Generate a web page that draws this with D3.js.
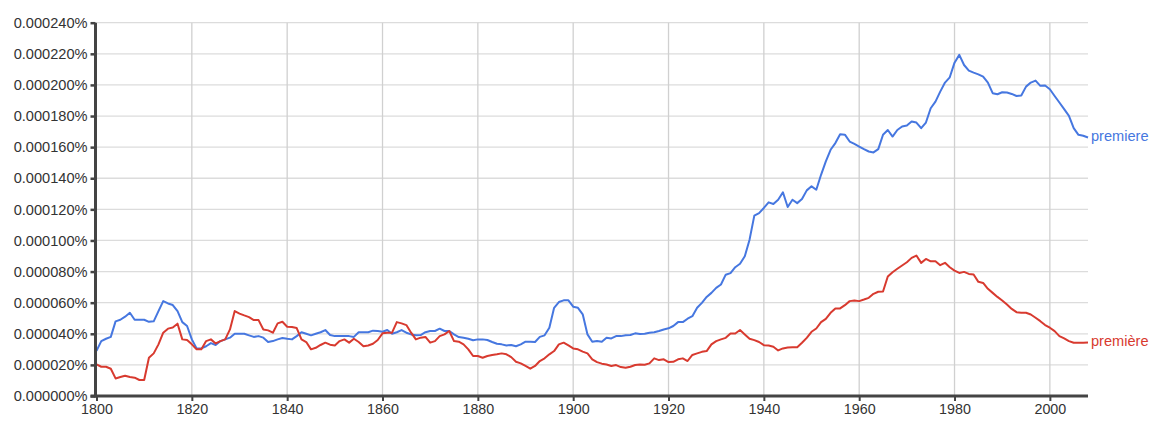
<!DOCTYPE html>
<html>
<head>
<meta charset="utf-8">
<script src="https://cdn.jsdelivr.net/npm/d3@7"></script>
<style>
  html, body { margin: 0; padding: 0; background: #fff; }
  svg { display: block; font-family: "Liberation Sans", Arial, Helvetica, sans-serif; }
</style>
</head>
<body>
<svg id="chart" width="1160" height="428"></svg>
<script>
// ---- data (values in units of 0.000001 %) ----
const startYear = 1800;
const endYear = 2008;
const xTickYears = [1800, 1820, 1840, 1860, 1880, 1900, 1920, 1940, 1960, 1980, 2000];
const yTickValues = [0, 20, 40, 60, 80, 100, 120, 140, 160, 180, 200, 220, 240];
const yTickLabels = ["0.000000%", "0.000020%", "0.000040%", "0.000060%", "0.000080%", "0.000100%",
  "0.000120%", "0.000140%", "0.000160%", "0.000180%", "0.000200%", "0.000220%", "0.000240%"];
const seriesNames = ["premiere", "première"];
const seriesColors = ["#4677e0", "#d83a2f"];

const premiere = [
  29, 35.3, 36.8, 38, 48, 49, 51, 53.5, 49, 49,
  49, 47.7, 48, 54.6, 61, 59.5, 58.5, 54.6, 47.5, 45,
  36.4, 30.6, 30.6, 32, 34, 32.8, 35.3, 36.4, 37.5, 40,
  40, 40, 39, 38, 38.5, 37.5, 34.7, 35.3, 36.4, 37.3,
  36.8, 36.4, 38.5, 41, 40, 39, 40, 41, 42.4, 39.2,
  38.5, 38.5, 38.5, 38.5, 38, 41, 41, 41, 42, 41.8,
  41.3, 42.4, 40, 41, 42.4, 40.7, 39.6, 39, 39.2, 41,
  41.8, 41.8, 43.3, 41.8, 41.8, 39.6, 37.9, 37.5, 36.8, 35.8,
  36.4, 36.4, 36, 34.7, 33.6, 33.2, 32.5, 32.8, 32, 33.2,
  34.9, 34.9, 34.7, 38, 39, 43.9, 56.7, 60.4, 61.5, 61.5,
  57.4, 56.7, 52.5, 39.6, 34.9, 35.3, 34.9, 37.5, 37, 38.5,
  38.5, 39, 39.2, 40.3, 39.8, 40, 40.7, 41, 41.8, 42.8,
  43.5, 45, 47.5, 47.5, 49.7, 51.3, 56.7, 59.9, 63.7, 66.3,
  69.5, 71.7, 78, 79, 82.8, 85, 89.8, 100.5, 116, 117.6,
  120.9, 124.5, 123.4, 126.2, 131, 121.5, 126.2, 124, 126.6, 132.2,
  134.8, 132.6, 142.2, 150.8, 158.3, 162.6, 168.3, 168, 163.6, 162.1,
  160.4, 158.7, 157.2, 156.6, 158.7, 168, 171, 166.8, 171, 173.3,
  173.9, 176.5, 175.8, 172.2, 175.8, 185, 189.3, 195.7, 201.5, 204.9,
  214.3, 219.3, 212.8, 209.2, 207.9, 206.8, 205.3, 201.5, 194.7, 194,
  195.3, 195.1, 194.2, 192.9, 193.2, 198.9, 201.5, 202.8, 199.4, 199.6,
  197.2, 192.9, 188.7, 184.4, 180.1, 172.2, 167.9, 167.3, 166.2
];

const premiereAccent = [
  20.3, 18.8, 18.8, 17.5, 11.3, 12.2, 13, 12.2, 11.8, 10.3,
  10.3, 24.6, 27.4, 33.2, 40.7, 43.3, 44, 46.5, 36.4, 36,
  33.2, 30, 30, 35.3, 36.4, 33.8, 35.3, 36.4, 42.8, 54.6,
  53, 51.8, 50.7, 48.8, 48.8, 42.8, 42.2, 40.7, 46.7, 47.7,
  44.5, 44.3, 43.7, 36.4, 34.7, 30, 31, 32.8, 34.3, 33,
  32.5, 35.3, 36.4, 34.3, 36.8, 34.7, 32, 32.5, 33.6, 36,
  40.3, 40.7, 40.7, 47.5, 46.7, 45.6, 40.7, 36.4, 37.5, 38,
  34.3, 35.3, 38.5, 39.6, 41.8, 35.3, 34.9, 33.2, 30, 25.7,
  25.7, 24.6, 25.7, 26.3, 26.8, 27.4, 26.8, 25, 22, 21,
  19.3, 17.6, 19.3, 22.5, 24.2, 26.8, 28.9, 33.2, 34.3, 32.5,
  30.6, 30, 28.5, 27.4, 23.6, 21.8, 20.8, 20.3, 19.3, 19.9,
  18.6, 18.2, 18.8, 19.9, 20.3, 20.1, 21, 24.2, 23.1, 23.6,
  21.8, 22, 23.6, 24.2, 22.5, 26.4, 27.4, 28.4, 28.9, 33.2,
  35.3, 36.4, 37.4, 40.2, 40.2, 42.4, 39.6, 36.8, 35.9, 34.7,
  32.7, 32.5, 31.7, 29.3, 30.6, 31.2, 31.4, 31.4, 34.2, 37.4,
  41.3, 43.4, 47.5, 49.6, 53.5, 56.3, 56.3, 58.4, 61, 61.4,
  61, 62, 63.1, 65.7, 67, 67.2, 76.8, 79.6, 81.8, 83.9,
  86, 88.8, 90.3, 85.6, 88.1, 86.6, 86.6, 84.1, 85.6, 82.8,
  80.6, 79.1, 79.8, 78.5, 78.1, 73.4, 72.7, 68.9, 66.3, 63.7,
  61.4, 58.8, 56, 53.9, 53.5, 53.5, 52.4, 50.3, 48.1, 45.6,
  43.9, 41.7, 38.5, 37, 35.3, 34.2, 34.2, 34.2, 34.4
];

const seriesValues = [premiere, premiereAccent];

// ---- layout ----
const plotLeft = 96.5, plotRight = 1088, plotTop = 22.7, plotBottom = 396;
const fontStack = '"Liberation Sans", Arial, Helvetica, sans-serif';
const svg = d3.select("#chart");

const x = d3.scaleLinear().domain([startYear, endYear]).range([plotLeft, plotRight]);
const y = d3.scaleLinear().domain([0, 240]).range([plotBottom, plotTop]);

// gridlines
const grid = svg.append("g");
grid.selectAll("line.h").data(yTickValues.filter(v => v > 0)).join("line")
  .attr("x1", plotLeft).attr("x2", plotRight)
  .attr("y1", d => y(d)).attr("y2", d => y(d))
  .attr("stroke", "#dcdcdc").attr("stroke-width", 1.3);
grid.selectAll("line.v").data(xTickYears.filter(v => v > startYear)).join("line")
  .attr("x1", d => x(d)).attr("x2", d => x(d))
  .attr("y1", plotTop).attr("y2", plotBottom)
  .attr("stroke", "#d0d0d0").attr("stroke-width", 1.3);

// lines
const line = d3.line()
  .x((d, i) => x(startYear + i))
  .y(d => y(d));

seriesValues.forEach((vals, k) => {
  svg.append("path")
    .datum(vals)
    .attr("fill", "none")
    .attr("stroke", seriesColors[k])
    .attr("stroke-width", 2)
    .attr("stroke-linejoin", "round")
    .attr("d", line);
  const last = vals[vals.length - 1];
  svg.append("text")
    .attr("x", x(endYear) + 3)
    .attr("y", y(last))
    .attr("dy", "0.25em")
    .attr("fill", seriesColors[k])
    .style("font-size", "14.6px")
    .style("font-family", fontStack)
    .text(seriesNames[k]);
});

// y axis
const yAxis = d3.axisLeft(y)
  .tickValues(yTickValues)
  .tickFormat((d, i) => yTickLabels[i])
  .tickSize(5)
  .tickPadding(3);
const gy = svg.append("g").attr("transform", `translate(${plotLeft - 1},0)`).call(yAxis);
gy.select(".domain").attr("stroke", "#444").attr("stroke-width", 3).attr("d", `M0,${plotTop}V${plotBottom + 1.5}`);
gy.selectAll(".tick line").attr("stroke", "#444").attr("stroke-width", 2.5);
gy.selectAll(".tick text").attr("fill", "#333").style("font-size", "14.6px")
  .style("font-family", fontStack);

// x axis
const xAxis = d3.axisBottom(x)
  .tickValues(xTickYears)
  .tickFormat(d3.format("d"))
  .tickSize(5)
  .tickPadding(3);
const gx = svg.append("g").attr("transform", `translate(0,${plotBottom})`).call(xAxis);
gx.select(".domain").attr("stroke", "#444").attr("stroke-width", 3).attr("d", `M${plotLeft - 6},0H${plotRight}`);
gx.selectAll(".tick line").attr("stroke", "#444").attr("stroke-width", 2);
gx.selectAll(".tick text").attr("fill", "#333").style("font-size", "14.3px")
  .style("font-family", fontStack);
</script>
</body>
</html>
